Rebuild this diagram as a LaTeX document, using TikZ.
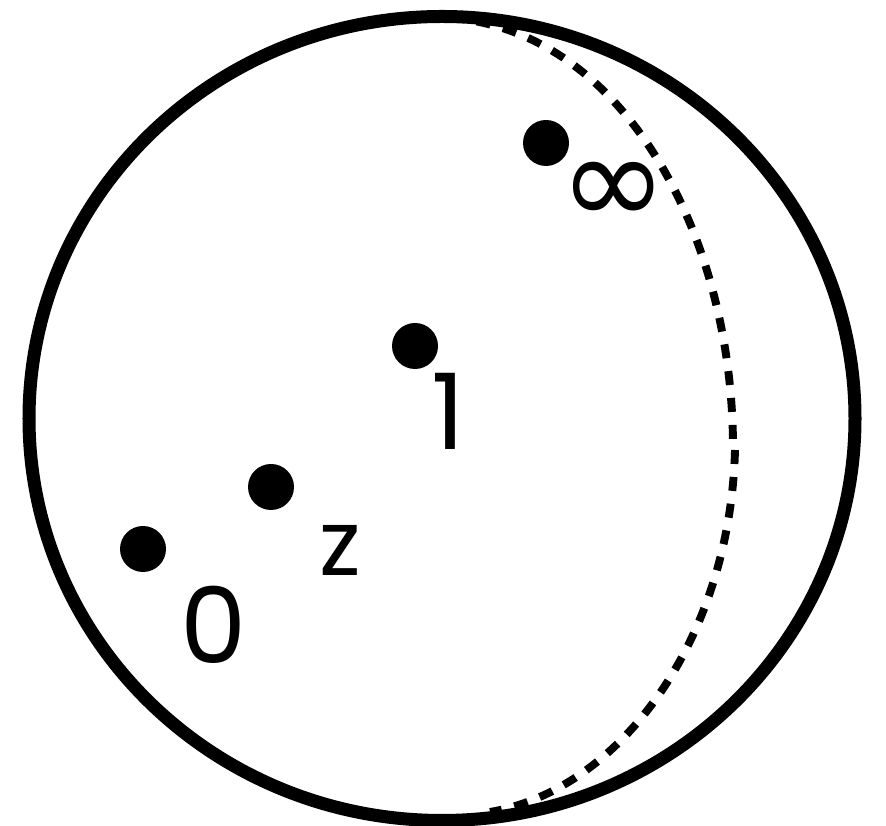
\documentclass[tikz,border=0pt]{standalone}
\usepackage{fontspec}
\setmainfont{Poppins}
\newfontfamily\symfont{DejaVu Sans}
\usepackage{tikz}
\usetikzlibrary{positioning}

\begin{document}
\begin{tikzpicture}[
  pointdot/.style={circle, fill=black, minimum size=0.92cm, inner sep=0pt},
  ptlabel/.style={inner sep=0pt, font=\fontsize{60}{60}\selectfont},
  meridian/.style={line width=4.5pt, dash pattern=on 0.28cm off 0.26cm}
]
\useasboundingbox (0,0) rectangle (17.72,16.52);
% sphere
\draw[line width=7.4pt] (8.84,8.15) ellipse [x radius=8.26cm, y radius=8.04cm];
% hidden meridian
\draw[meridian] (9.0,16.16) .. controls (12.4,15.92) and (14.66,11.92) .. (14.66,7.56);
\draw[meridian] (14.70,7.52) .. controls (14.60,3.72) and (12.40,0.72) .. (9.80,0.28);
% points
\node[pointdot] (pinf) at (10.92,13.66) {};
\node[pointdot] (pone) at (8.30,9.60) {};
\node[pointdot] (pz) at (5.42,6.78) {};
\node[pointdot] (pzero) at (2.86,5.54) {};
% labels
\node[ptlabel, font=\symfont\fontsize{74}{74}\selectfont] (linf) at (12.28,12.64) {∞};
\node[ptlabel] (lone) at (8.96,8.30) {1};
\node[ptlabel, font=\fontsize{52}{52}\selectfont] (lz) at (6.80,5.52) {z};
\node[ptlabel] (lzero) at (4.28,4.02) {0};
\end{tikzpicture}
\end{document}
